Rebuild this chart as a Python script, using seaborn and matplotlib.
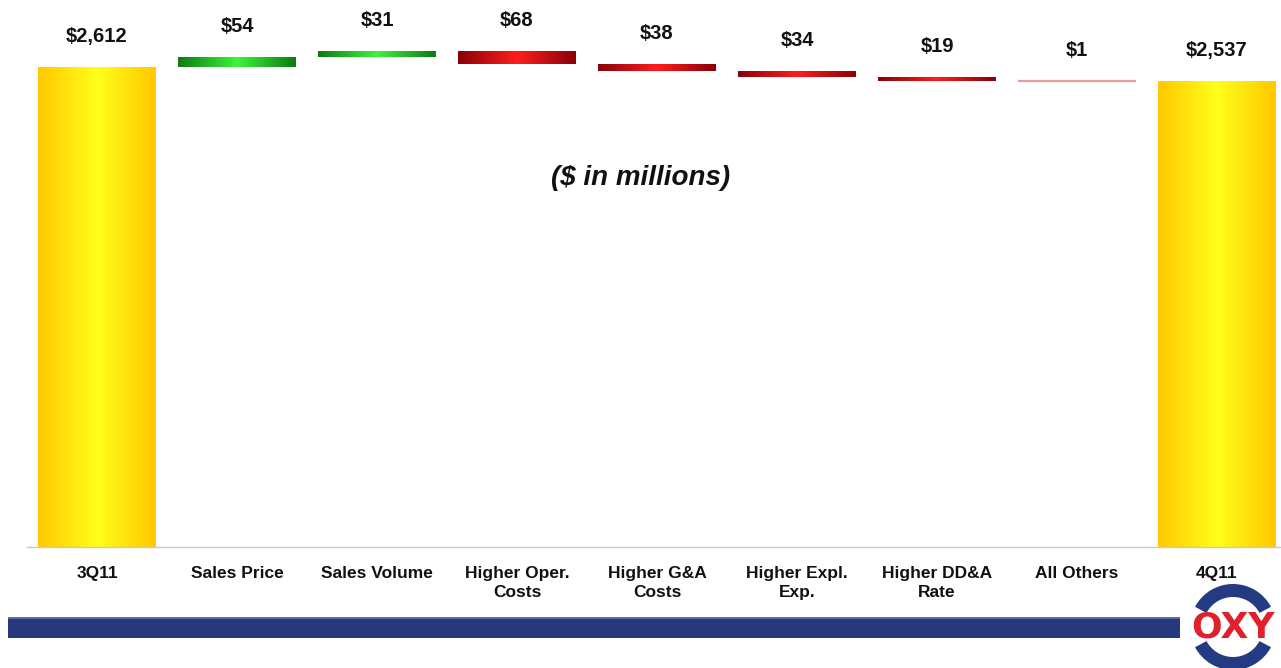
import numpy as np
import pandas as pd
import matplotlib
matplotlib.use("Agg")
import matplotlib.pyplot as plt
import seaborn as sns
from matplotlib.colors import LinearSegmentedColormap
from matplotlib.patches import Rectangle, Wedge

# ---- data ($ in millions) ----
categories = ["3Q11", "Sales Price", "Sales Volume", "Higher Oper.\nCosts",
              "Higher G&A\nCosts", "Higher Expl.\nExp.", "Higher DD&A\nRate",
              "All Others", "4Q11"]
opening = 2612
closing = 2537
changes = [54, 31, -68, -38, -34, -19, -1]
value_labels = ["$2,612", "$54", "$31", "$68", "$38", "$34", "$19", "$1", "$2,537"]

# ---- waterfall geometry ----
levels = np.concatenate([[opening], opening + np.cumsum(changes)])
bottoms = np.array([0] + list(np.minimum(levels[:-1], levels[1:])) + [0], dtype=float)
heights = np.array([opening] + [abs(c) for c in changes] + [closing], dtype=float)
tops = bottoms + heights
df = pd.DataFrame({"item": categories, "height": heights})

# bar shading: (edge colour, centre colour)
totals_shade = ("#ffc800", "#ffff1a")
up_shade = ("#0f7a12", "#3cf53c")
down_shade = ("#8a0008", "#ff1e1e")
small_shade = ("#c98888", "#e0a0a0")
shades = [totals_shade] + [up_shade if c > 0 else down_shade for c in changes] + [totals_shade]
shades[-2] = small_shade

sns.set_style("white")
plt.rcParams["font.family"] = ["Liberation Sans", "DejaVu Sans"]

W, H = 1281, 668
fig = plt.figure(figsize=(W / 100, H / 100), dpi=100)
fig.patch.set_facecolor("white")

# main axes: baseline at y=547 px, first category boundary at x=27 px, 140 px per category
ax = fig.add_axes([27 / W, 1 - 547 / H, (140 * 9) / W, 547 / H])

sns.barplot(data=df, x="item", y="height", order=categories, bottom=bottoms,
            width=0.84, color="#dddddd", errorbar=None, linewidth=0, ax=ax)

grad = np.linspace(0, 1, 128)[None, :]
for patch, (edge, centre), h in zip(ax.patches, shades, heights):
    cmap = LinearSegmentedColormap.from_list("shade", [edge, centre, edge])
    x0, y0 = patch.get_x(), patch.get_y()
    w, hh = patch.get_width(), patch.get_height()
    patch.set_facecolor(centre)
    if h < 5:
        # keep a hairline-thin change visible as a stroke
        patch.set_edgecolor(centre)
        patch.set_linewidth(1.6)
    im = ax.imshow(grad, cmap=cmap, extent=(x0, x0 + w, y0, y0 + hh),
                   aspect="auto", interpolation="bicubic",
                   zorder=patch.get_zorder() + 0.1)
    im.set_clip_path(patch)

for i, (lab, top) in enumerate(zip(value_labels, tops)):
    ax.annotate(lab, (i, top), xytext=(0, 22), textcoords="offset points",
                ha="center", va="center", fontsize=14.5, fontweight="bold",
                color="#111111")

ax.set_xlim(-0.5, 8.5)
ax.set_ylim(0, 547 / (480 / opening))
ax.set_xlabel("")
ax.set_ylabel("")
ax.set_yticks([])
for side in ("top", "right", "left"):
    ax.spines[side].set_visible(False)
ax.spines["bottom"].set_color("#c8c8c8")
ax.spines["bottom"].set_linewidth(1.0)
ax.set_xticks(np.arange(-0.5, 9.0, 1.0), minor=True)
ax.tick_params(axis="x", which="minor", length=5, width=1.0, color="#c8c8c8",
               direction="out")
ax.tick_params(axis="x", which="major", length=0, pad=13.5)
ax.set_xticks(range(len(categories)))
ax.set_xticklabels(categories, fontsize=12.5, fontweight="bold", color="#111111",
                   linespacing=1.35)

fig.text(641 / W, 1 - 178 / H, "($ in millions)", ha="center", va="center",
         fontsize=20, fontweight="bold", fontstyle="italic", color="#111111")

# footer band
fig.patches.append(Rectangle((8 / W, 1 - 638 / H), (1180 - 8) / W, 21 / H,
                             transform=fig.transFigure, facecolor="#27387c",
                             edgecolor="none", zorder=1))
fig.patches.append(Rectangle((8 / W, 1 - 619 / H), (1180 - 8) / W, 2 / H,
                             transform=fig.transFigure, facecolor="#5b6aa8",
                             edgecolor="none", zorder=2))

# logo
lax = fig.add_axes([1181 / W, 0, 100 / W, 85 / H])
lax.set_xlim(1181, 1281)
lax.set_ylim(668, 583)
lax.axis("off")
cx, cy = 1233, 627
lax.add_patch(Wedge((cx, cy), 43, 28, 152, width=13, facecolor="#243a82", edgecolor="none"))
lax.add_patch(Wedge((cx, cy), 43, 208, 332, width=13, facecolor="#243a82", edgecolor="none"))
lax.text(cx, cy + 1, "OXY", ha="center", va="center", fontsize=26, fontweight="bold",
         color="#e0202a", family=["DejaVu Sans"])

fig.savefig("out.png", dpi=100, facecolor="white")
